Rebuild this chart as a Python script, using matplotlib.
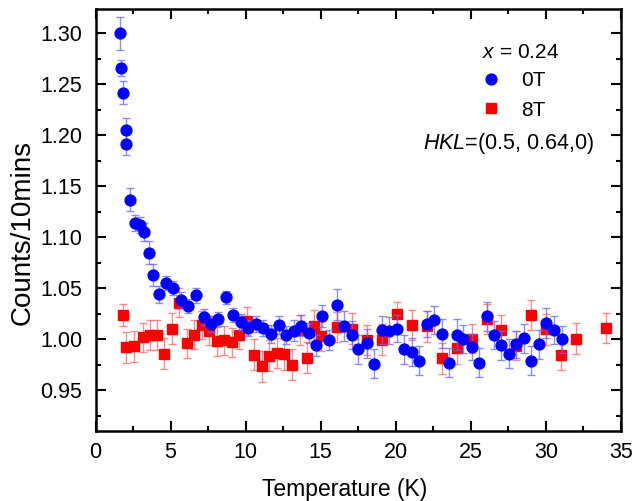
import matplotlib
matplotlib.use("Agg")
import matplotlib.pyplot as plt
from matplotlib.lines import Line2D
from matplotlib.ticker import MultipleLocator, FormatStrFormatter

# ---- data: 0T (blue circles) ----
T_0T = [1.62, 1.73, 1.82, 2.06, 2.06, 2.33, 2.66, 2.95, 3.26, 3.57, 3.82, 4.21,
        4.68, 5.19, 5.70, 6.19, 6.68, 7.21, 7.67, 8.16, 8.67, 9.18, 9.67, 10.18,
        10.67, 11.18, 11.66, 12.20, 12.69, 13.19, 13.69, 14.19, 14.66, 15.06,
        15.52, 16.08, 16.52, 17.08, 17.50, 18.08, 18.52, 19.08, 19.52, 20.07,
        20.54, 21.07, 21.56, 22.07, 22.53, 23.09, 23.53, 24.10, 24.50, 25.10,
        25.53, 26.06, 26.53, 27.04, 27.52, 28.03, 28.54, 29.03, 29.52, 30.03,
        30.52, 31.05]
C_0T = [1.300, 1.266, 1.242, 1.205, 1.192, 1.137, 1.114, 1.112, 1.105, 1.085,
        1.063, 1.044, 1.055, 1.050, 1.039, 1.033, 1.043, 1.022, 1.015, 1.020,
        1.041, 1.024, 1.017, 1.011, 1.015, 1.011, 1.005, 1.014, 1.004, 1.0085,
        1.0135, 1.006, 0.994, 1.023, 0.999, 1.034, 1.013, 1.004, 0.990, 0.996,
        0.976, 1.009, 1.0085, 1.0105, 0.990, 0.9875, 0.979, 1.015, 1.019, 1.0056,
        0.977, 1.0044, 1.0003, 0.9924, 0.977, 1.0226, 1.004, 0.994, 0.986, 0.995,
        1.001, 0.979, 0.995, 1.016, 1.009, 1.000]
E_0T = [0.016, 0.008, 0.011, 0.012, 0.011, 0.011, 0.008, 0.008, 0.009, 0.011,
        0.011, 0.008, 0.007, 0.007, 0.007, 0.007, 0.007, 0.008, 0.008, 0.007,
        0.006, 0.007, 0.008, 0.008, 0.008, 0.008, 0.009, 0.009, 0.009, 0.010,
        0.010, 0.010, 0.010, 0.011, 0.010, 0.015, 0.015, 0.014, 0.014, 0.014,
        0.014, 0.014, 0.013, 0.013, 0.014, 0.014, 0.014, 0.013, 0.014, 0.014,
        0.014, 0.015, 0.014, 0.013, 0.014, 0.014, 0.014, 0.014, 0.014, 0.013,
        0.014, 0.014, 0.014, 0.015, 0.014, 0.013]

# ---- data: 8T (red squares) ----
T_8T = [1.82, 2.06, 2.55, 3.13, 3.61, 4.10, 4.59, 5.08, 5.57, 6.08, 6.59, 7.08,
        7.59, 8.07, 8.58, 9.07, 9.58, 10.07, 10.56, 11.08, 11.56, 12.06, 12.58,
        13.06, 13.60, 14.07, 14.57, 15.02, 16.08, 17.08, 18.08, 19.08, 20.07,
        21.07, 22.09, 23.11, 24.08, 25.08, 26.06, 27.04, 28.03, 29.03, 30.03,
        31.02, 32.02, 34.00]
C_8T = [1.024, 0.992, 0.993, 1.002, 1.004, 1.004, 0.986, 1.0105, 1.036, 0.996,
        1.0046, 1.0138, 1.0085, 0.998, 0.999, 0.997, 1.0046, 1.018, 0.985, 0.9735,
        0.984, 0.9866, 0.9853, 0.975, 1.009, 0.982, 1.0135, 1.0033, 1.012, 1.0105,
        0.9993, 0.9997, 1.0249, 1.0141, 1.0128, 0.9813, 0.991, 1.0007, 1.020,
        1.0088, 0.9938, 1.0239, 1.0098, 0.9846, 1.0007, 1.011]
E_8T = [0.011, 0.015, 0.015, 0.014, 0.015, 0.015, 0.015, 0.015, 0.014, 0.014,
        0.014, 0.014, 0.014, 0.014, 0.014, 0.014, 0.014, 0.014, 0.015, 0.015,
        0.015, 0.015, 0.015, 0.015, 0.015, 0.015, 0.015, 0.015, 0.015, 0.015,
        0.015, 0.015, 0.012, 0.015, 0.015, 0.015, 0.015, 0.014, 0.015, 0.015,
        0.014, 0.015, 0.015, 0.015, 0.015, 0.015]

plt.rcParams['font.family'] = ['Liberation Sans', 'DejaVu Sans']
plt.rcParams['mathtext.fontset'] = 'custom'
plt.rcParams['mathtext.it'] = 'Liberation Sans:italic'
plt.rcParams['mathtext.rm'] = 'Liberation Sans'

fig = plt.figure(figsize=(6.44, 5.01), dpi=100)
ax = fig.add_axes([0.1483, 0.1397, 0.8160, 0.8423])

ax.errorbar(T_0T, C_0T, yerr=E_0T, fmt='o', color='#0000ff', ms=7.8,
            ecolor=(0.4, 0.4, 1.0, 0.75), elinewidth=1.0, capsize=3.2,
            capthick=1.0, zorder=3)
ax.errorbar(T_8T, C_8T, yerr=E_8T, fmt='s', color='#ff0000', ms=7.0,
            ecolor=(1.0, 0.4, 0.4, 0.75), elinewidth=1.0, capsize=3.2,
            capthick=1.0, zorder=2)

ax.set_xlim(0, 35)
ax.set_ylim(0.91, 1.324)
ax.xaxis.set_major_locator(MultipleLocator(5))
ax.xaxis.set_minor_locator(MultipleLocator(2.5))
ax.yaxis.set_major_locator(MultipleLocator(0.05))
ax.yaxis.set_minor_locator(MultipleLocator(0.025))
ax.yaxis.set_major_formatter(FormatStrFormatter('%.2f'))

ax.tick_params(which='both', direction='in', top=True, right=True, width=1.5,
               labelsize=15.5)
ax.tick_params(which='major', length=7)
ax.tick_params(which='minor', length=3.5)
ax.tick_params(axis='x', pad=8)
ax.tick_params(axis='y', pad=9.5)
for s in ax.spines.values():
    s.set_linewidth(1.8)

ax.set_xlabel('Temperature (K)', fontsize=16.5, labelpad=11)
ax.set_ylabel('Counts/10mins', fontsize=20, labelpad=3)
ax.xaxis.label.set_x(0.475)
ax.yaxis.label.set_y(0.47)

handles = [Line2D([], [], marker='o', ls='none', color='#0000ff', ms=7.8),
           Line2D([], [], marker='s', ls='none', color='#ff0000', ms=7.0)]
leg = ax.legend(handles, ['0T', '8T'], loc='center left',
                bbox_to_anchor=(0.705, 0.795), frameon=False, fontsize=15,
                handlelength=1.0, handletextpad=0.95, labelspacing=0.5,
                borderpad=0.2)

ax.text(0.808, 0.897, r'$x$ = 0.24', transform=ax.transAxes, fontsize=15,
        ha='center', va='center')
ax.text(0.785, 0.682, r'$HKL$=(0.5, 0.64,0)', transform=ax.transAxes,
        fontsize=15.5, ha='center', va='center')

fig.savefig('out.png', dpi=100)
